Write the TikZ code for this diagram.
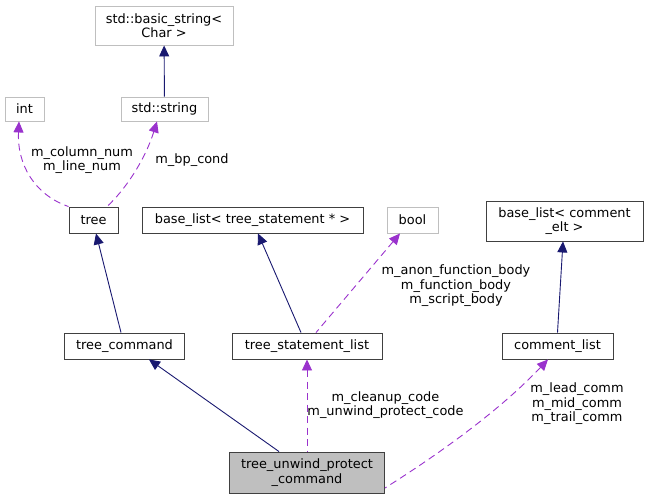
\documentclass[tikz,border=0pt]{standalone}
\usepackage{fontspec}
\setmainfont{DejaVu Sans}
\usetikzlibrary{arrows.meta}
\definecolor{edgenavy}{HTML}{191970}
\definecolor{edgeplum}{HTML}{9A32CD}
\definecolor{boxline}{HTML}{404040}
\definecolor{extline}{HTML}{BFBFBF}
\definecolor{curfill}{HTML}{BFBFBF}
\begin{document}
\begin{tikzpicture}[x=1pt, y=-1pt,
    every node/.style={font=\fontsize{12.9}{14.5}\selectfont, inner sep=0pt, align=center},
    cls/.style={draw=boxline, fill=white, line width=0.9pt},
    ext/.style={draw=extline, fill=white, line width=0.9pt},
    cur/.style={cls, fill=curfill},
    inh/.style={edgenavy, line width=0.9pt, {Triangle[length=11pt,width=10pt]}-},
    use/.style={edgeplum, line width=0.9pt, dash pattern=on 7pt off 4.5pt, {Triangle[length=11pt,width=10pt]}-}]
    \useasboundingbox (0,0) rectangle (649,499);

    % Clases externas
    \node[ext, minimum width=138pt, minimum height=39pt] (bstr) at (164,25.5) {std::basic\_string<\\Char >};
    \node[ext, minimum width=39pt, minimum height=24pt] (int) at (24.5,109) {int};
    \node[ext, minimum width=87pt, minimum height=24pt] (str) at (164.5,109) {std::string};
    \node[ext, minimum width=51pt, minimum height=26pt] (bool) at (412.5,220) {bool};

    % Clases del proyecto
    \node[cls, minimum width=49pt, minimum height=26pt] (tree) at (93.5,220) {tree};
    \node[cls, minimum width=221pt, minimum height=26pt] (bltst) at (252.5,220) {base\_list< tree\_statement * >};
    \node[cls, minimum width=157pt, minimum height=40pt] (blcom) at (564.5,221) {base\_list< comment\\\_elt >};
    \node[cls, minimum width=120pt, minimum height=26pt] (tcmd) at (124.5,346) {tree\_command};
    \node[cls, minimum width=150pt, minimum height=26pt] (tstl) at (307,346) {tree\_statement\_list};
    \node[cls, minimum width=111pt, minimum height=26pt] (clst) at (557.5,346) {comment\_list};
    \node[cur, minimum width=155pt, minimum height=41pt] (tupc) at (307,472.5) {tree\_unwind\_protect\\\_command};

    % Herencia
    \draw[inh] (bstr) -- (str);
    \draw[inh] ([xshift=2.5pt]tree.south) -- ([xshift=-3.5pt]tcmd.north);
    \draw[inh] ([xshift=5.5pt]bltst.south) -- ([xshift=-6pt]tstl.north);
    \draw[inh] ([xshift=-1.5pt]blcom.south) -- (clst.north);
    \draw[inh] ([xshift=24.5pt]tcmd.south) -- ([xshift=-28pt]tupc.north);

    % Miembros
    \draw[use] ([xshift=-5.5pt]int.south) .. controls (17,165) and (35,195) .. (tree.north west);
    \node at (82,160) {m\_column\_num\\m\_line\_num};
    \draw[use] ([xshift=-7.5pt]str.south) .. controls (145,160) and (125,190) .. ([xshift=13.5pt]tree.north);
    \node at (192,160) {m\_bp\_cond};
    \draw[use] ([xshift=-12.5pt]bool.south) -- ([xshift=9pt]tstl.north);
    \node at (456,286) {m\_anon\_function\_body\\m\_function\_body\\m\_script\_body};
    \draw[use] (tstl) -- (tupc);
    \node at (385.5,405) {m\_cleanup\_code\\m\_unwind\_protect\_code};
    \draw[use] ([xshift=-9.5pt]clst.south) .. controls (505,405) and (450,447) .. ([yshift=-15.5pt]tupc.east);
    \node at (577,404) {m\_lead\_comm\\m\_mid\_comm\\m\_trail\_comm};
\end{tikzpicture}
\end{document}
